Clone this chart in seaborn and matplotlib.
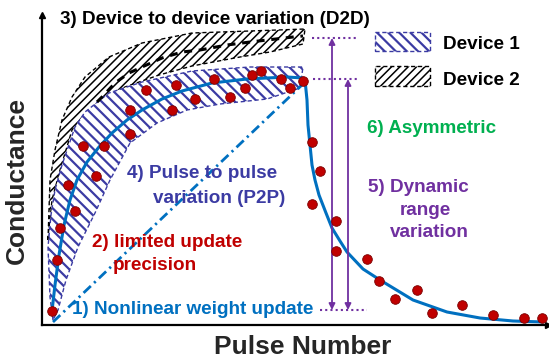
import numpy as np
import pandas as pd
import matplotlib
matplotlib.use("Agg")
import matplotlib.pyplot as plt
import seaborn as sns
from matplotlib.patches import Rectangle

# ---- data (pulse number, conductance; arbitrary units read from the schematic) ----
dots_pulse = [10, 15, 18, 33, 26, 54, 41, 62, 88, 88, 104, 130, 134, 153, 172, 188, 203, 210, 219, 239,
              248, 261, 270, 278, 270, 294, 294, 325, 337, 353, 375, 390, 420, 451, 482, 500]
dots_cond = [14, 65, 97, 114, 140, 149, 179, 179, 191, 215, 235, 215, 240, 226, 246, 228, 237, 250, 254, 246,
             237, 244, 183, 154, 121, 104, 74, 66, 44, 26, 35, 12, 20, 10, 7, 7]

fit_pulse = [10, 13, 17, 22, 28, 35, 45, 57, 70, 85, 100, 120, 140, 170, 205, 245, 261,
             263, 265, 266, 268, 270, 273, 277, 284, 290, 298, 305, 321, 338, 371, 405, 438, 471, 501]
fit_cond = [14, 40, 70, 100, 125, 145, 163, 178, 192, 205, 215, 226, 234, 242, 246, 248, 247,
            245, 225, 200, 180, 160, 145, 130, 112, 97, 84, 73, 56, 45, 25, 13, 7, 4, 3]

linear_pulse = [11, 261]
linear_cond = [3, 241]

d1_up_pulse = [11, 8, 6, 9, 13, 20, 33, 43, 67, 100, 150, 208, 261]
d1_up_cond = [5, 28, 78, 110, 135, 160, 198, 213, 232, 243, 254, 258, 258]
d1_lo_pulse = [258, 225, 178, 145, 115, 88, 68, 53, 36, 24, 16]
d1_lo_cond = [237, 226, 221, 215, 202, 182, 145, 112, 78, 45, 15]

d2_up_pulse = [6, 8, 13, 20, 30, 43, 67, 100, 150, 208, 263]
d2_up_cond = [85, 145, 175, 205, 228, 248, 268, 282, 292, 294, 296]
d2_lo_pulse = [261, 228, 198, 150, 117, 83, 60, 40, 30, 18, 10]
d2_lo_cond = [281, 273, 268, 259, 250, 238, 225, 208, 195, 155, 125]

d2_mean_pulse = [55, 60, 73, 87, 100, 120, 140, 158, 185, 208, 251, 261]
d2_mean_cond = [223, 228, 242, 252, 258, 267, 273, 275, 280, 283, 288, 289]

range_top = [287, 246]        # conductance maxima of device 2 / device 1
range_bottom = 15
range_x = [290, 306]

# ---- styling ----
sns.set_style("white")
plt.rcParams['font.family'] = ['Liberation Sans', 'DejaVu Sans']

BLUE = '#0070C0'
INDIGO = '#3B3BA3'
RED = '#C00000'
PURPLE = '#7030A0'
GREEN = '#00B050'
FS = 13.6
HATCH1 = '\\\\\\'
HATCH2 = '////'

fig = plt.figure(figsize=(5.49, 3.60), dpi=100)
W, H = 549, 360
ax = fig.add_axes([42 / W, 35 / H, 506 / W, 310 / H])
ax.set_xlim(0, 506)
ax.set_ylim(0, 310)

# bands
with plt.rc_context({'hatch.linewidth': 1.1}):
    ax.fill(d2_up_pulse + d2_lo_pulse, d2_up_cond + d2_lo_cond, facecolor='white', edgecolor='black',
            hatch=HATCH2, linestyle=(0, (3, 2)), linewidth=1.0, zorder=1)
    ax.add_patch(Rectangle((333, 239), 55, 20, facecolor='white', edgecolor='black', hatch=HATCH2,
                           linestyle=(0, (3, 2)), linewidth=1.0))
with plt.rc_context({'hatch.linewidth': 1.6}):
    ax.fill(d1_up_pulse + d1_lo_pulse, d1_up_cond + d1_lo_cond, facecolor='white', edgecolor=INDIGO,
            hatch=HATCH1, linestyle=(0, (3, 2)), linewidth=1.0, zorder=2)
    ax.add_patch(Rectangle((333, 274), 55, 19, facecolor='white', edgecolor=INDIGO, hatch=HATCH1,
                           linestyle=(0, (3, 2)), linewidth=1.0))

sns.lineplot(x=d2_mean_pulse, y=d2_mean_cond, ax=ax, color='black', lw=2.2, sort=False,
             estimator=None, zorder=3).lines[-1].set_dashes((2.6, 2.2))

ln = sns.lineplot(x=linear_pulse, y=linear_cond, ax=ax, color=BLUE, lw=2.0, sort=False,
                  estimator=None, zorder=3).lines[-1]
ln.set_dashes((3.6, 1.6, 0.8, 1.6))

sns.lineplot(x=fit_pulse, y=fit_cond, ax=ax, color=BLUE, lw=2.2, sort=False, estimator=None, zorder=4)
sns.scatterplot(x=dots_pulse, y=dots_cond, ax=ax, color=RED, edgecolor='#7A0000', linewidth=0.6,
                s=48, zorder=5)

# dynamic range arrows
for xa, top in zip(range_x, range_top):
    ax.annotate('', xy=(xa, top), xytext=(xa, range_bottom),
                arrowprops=dict(arrowstyle='<|-|>', color=PURPLE, lw=1.3, mutation_scale=9,
                                shrinkA=0, shrinkB=0), zorder=4)
ax.plot([270, 316], [range_top[0]] * 2, color=PURPLE, ls=(0, (1, 1.5)), lw=1.5)
ax.plot([271, 316], [range_top[1]] * 2, color=PURPLE, ls=(0, (1, 1.5)), lw=1.5)
ax.plot([278, 325], [range_bottom] * 2, color=PURPLE, ls=(0, (1, 1.5)), lw=1.5)

# legend labels
ax.text(401, 276, 'Device 1', fontsize=FS, fontweight='bold', color='black', va='baseline')
ax.text(401, 240, 'Device 2', fontsize=FS, fontweight='bold', color='black', va='baseline')

# annotations
ax.text(18, 301, '3) Device to device variation (D2D)', fontsize=FS, fontweight='bold',
        color='black', va='baseline')
ax.text(325, 192, '6) Asymmetric', fontsize=FS, fontweight='bold', color=GREEN, va='baseline')
ax.text(376, 133, '5) Dynamic', fontsize=FS, fontweight='bold', color=PURPLE, va='baseline', ha='center')
ax.text(383, 110, 'range', fontsize=FS, fontweight='bold', color=PURPLE, va='baseline', ha='center')
ax.text(387, 88, 'variation', fontsize=FS, fontweight='bold', color=PURPLE, va='baseline', ha='center')
ax.text(85, 147, '4) Pulse to pulse', fontsize=FS, fontweight='bold', color=INDIGO, va='baseline')
ax.text(111, 122, 'variation (P2P)', fontsize=FS, fontweight='bold', color=INDIGO, va='baseline')
ax.text(50, 78, '2) limited update', fontsize=FS, fontweight='bold', color=RED, va='baseline')
ax.text(71, 55, 'precision', fontsize=FS, fontweight='bold', color=RED, va='baseline')
ax.text(30, 11, '1) Nonlinear weight update', fontsize=FS, fontweight='bold', color=BLUE, va='baseline')

# axes styling
for s in ['top', 'right']:
    ax.spines[s].set_visible(False)
for s in ['left', 'bottom']:
    ax.spines[s].set_linewidth(1.6)
    ax.spines[s].set_color('black')
ax.set_xticks([])
ax.set_yticks([])
ax.plot(1, 0, '>', color='black', ms=5, transform=ax.transAxes, clip_on=False)
ax.plot(0, 1, '^', color='black', ms=5, transform=ax.transAxes, clip_on=False)

fig.text(17 / W, 1 - 180 / H, 'Conductance', rotation=90, fontsize=19, fontweight='bold',
         ha='center', va='center')
fig.text(303 / W, 1 - 354 / H, 'Pulse Number', fontsize=19, fontweight='bold',
         ha='center', va='baseline')

fig.savefig('out.png', dpi=100)
